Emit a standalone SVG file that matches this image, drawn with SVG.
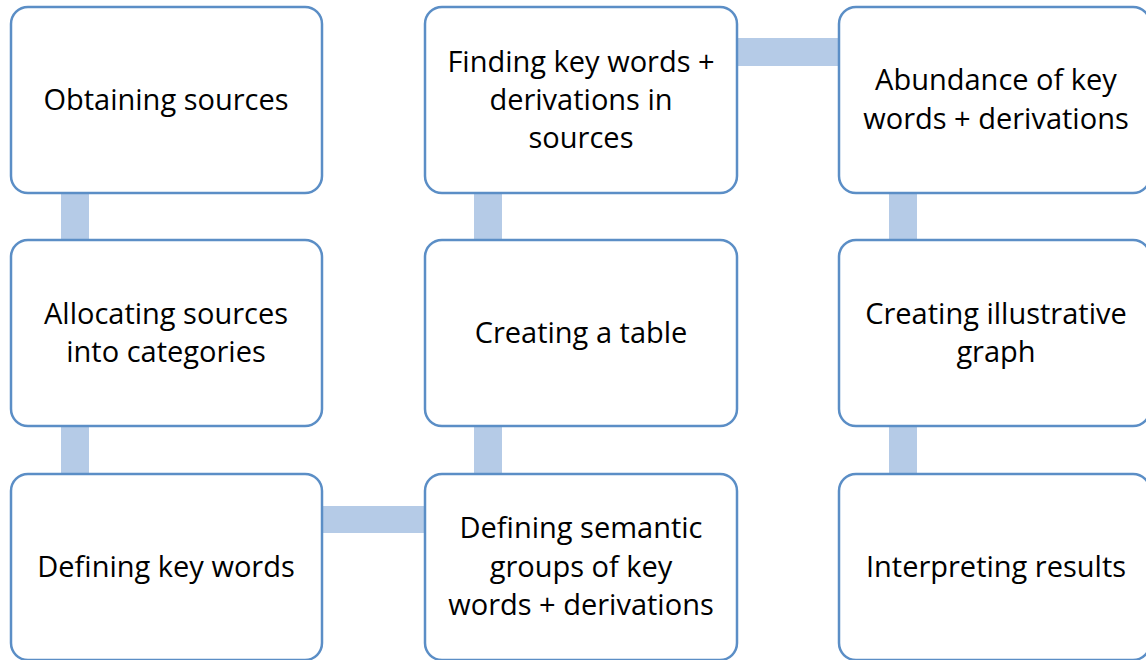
<svg xmlns="http://www.w3.org/2000/svg" width="1146" height="660" viewBox="0 0 1146 660">
<style>
.box{fill:#ffffff;stroke:#5b8ec6;stroke-width:2.5}
.con{fill:#b5cbe7}
.t{font-family:"Open Sans","Noto Sans",sans-serif;font-size:29px;fill:#000;text-anchor:middle}
</style>
<rect width="1146" height="660" fill="#ffffff"/>
<g id="connectors">
<rect class="con" x="61" y="193" width="28" height="47"/>
<rect class="con" x="61" y="426" width="28" height="48"/>
<rect class="con" x="322" y="506" width="103" height="27"/>
<rect class="con" x="474" y="426" width="28" height="48"/>
<rect class="con" x="474" y="193" width="28" height="47"/>
<rect class="con" x="737" y="38" width="102" height="28"/>
<rect class="con" x="889" y="193" width="28" height="47"/>
<rect class="con" x="889" y="426" width="28" height="48"/>
</g>
<g id="n1"><rect class="box" x="11" y="7" width="311" height="186" rx="17"/><text class="t" x="166" y="110">Obtaining sources</text></g>
<g id="n2"><rect class="box" x="11" y="240" width="311" height="186" rx="17"/><text class="t" x="166" y="324">Allocating sources</text><text class="t" x="166" y="362">into categories</text></g>
<g id="n3"><rect class="box" x="11" y="474" width="311" height="186" rx="17"/><text class="t" x="166" y="577">Defining key words</text></g>
<g id="n4"><rect class="box" x="425" y="474" width="312" height="186" rx="17"/><text class="t" x="581" y="538">Defining semantic</text><text class="t" x="581" y="577">groups of key</text><text class="t" x="581" y="615">words + derivations</text></g>
<g id="n5"><rect class="box" x="425" y="240" width="312" height="186" rx="17"/><text class="t" x="581" y="343">Creating a table</text></g>
<g id="n6"><rect class="box" x="425" y="7" width="312" height="186" rx="17"/><text class="t" x="581" y="72">Finding key words +</text><text class="t" x="581" y="110">derivations in</text><text class="t" x="581" y="148">sources</text></g>
<g id="n7"><rect class="box" x="839" y="7" width="311" height="186" rx="17"/><text class="t" x="996" y="90">Abundance of key</text><text class="t" x="996" y="129">words + derivations</text></g>
<g id="n8"><rect class="box" x="839" y="240" width="311" height="186" rx="17"/><text class="t" x="996" y="324">Creating illustrative</text><text class="t" x="996" y="362">graph</text></g>
<g id="n9"><rect class="box" x="839" y="474" width="311" height="186" rx="17"/><text class="t" x="996" y="577">Interpreting results</text></g>
</svg>
